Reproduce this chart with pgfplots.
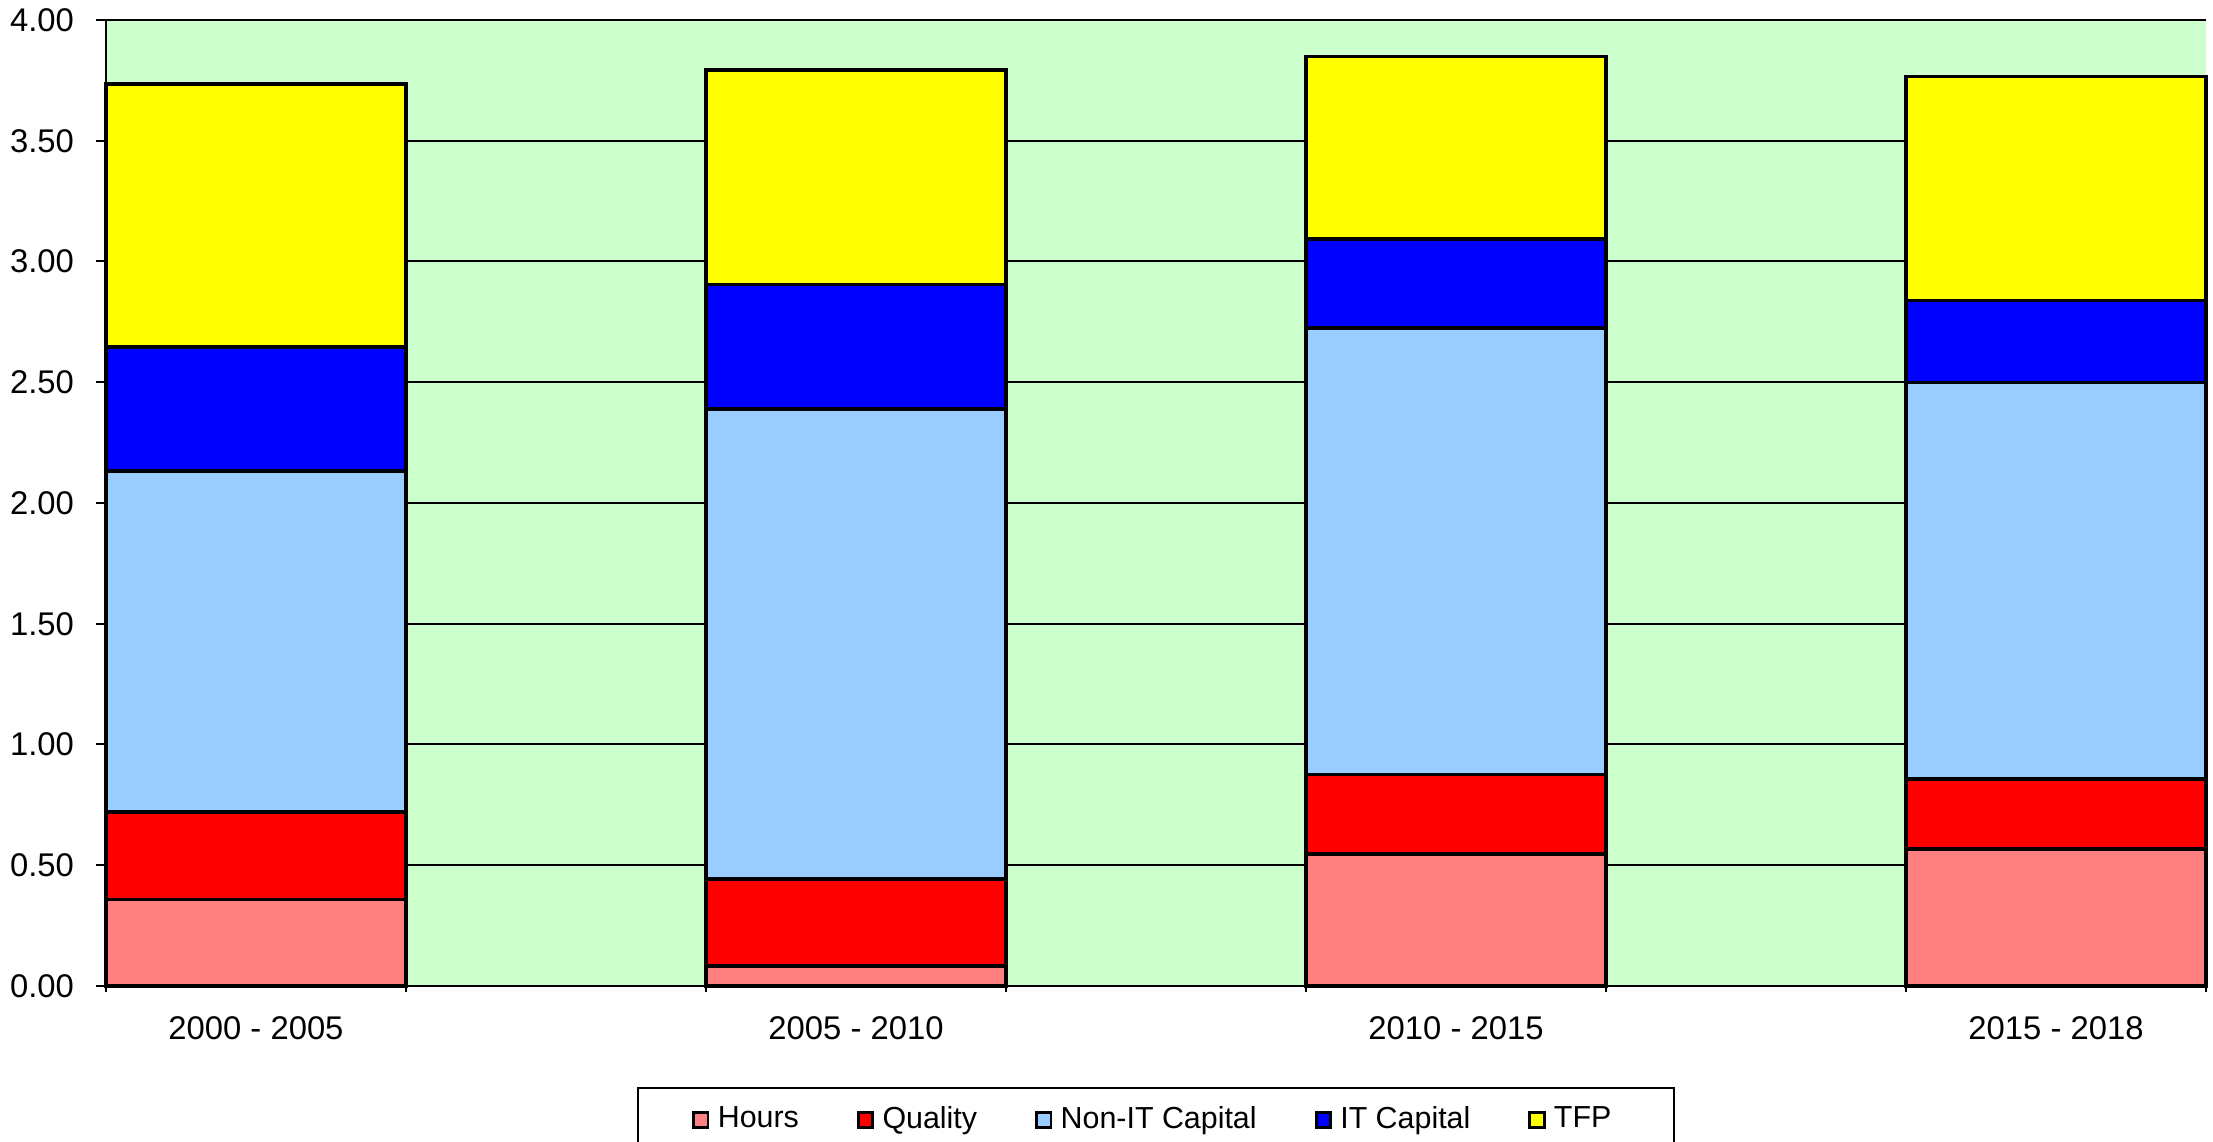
\documentclass[border=0pt]{standalone}
\usepackage{pgfplots}
\pgfplotsset{compat=1.18}
\usepackage{fontspec}
\setmainfont{Liberation Sans}
\definecolor{bg}{HTML}{CCFFCC}
\definecolor{hours}{HTML}{FF8080}
\definecolor{quality}{HTML}{FF0000}
\definecolor{nonit}{HTML}{99CCFF}
\definecolor{itcap}{HTML}{0000FF}
\definecolor{tfp}{HTML}{FFFF00}
\begin{document}
\begin{tikzpicture}
\begin{axis}[
  name=ax,
  scale only axis, width=525pt, height=241.5pt,
  ybar stacked, bar width=0.5,
  xmin=-0.25, xmax=3.25, ymin=0, ymax=4,
  clip=false,
  axis background/.style={fill=bg},
  axis x line*=bottom, axis y line*=left,
  axis line style={black, line width=0.6pt},
  xtick={0,1,2,3},
  xticklabels={2000 - 2005, 2005 - 2010, 2010 - 2015, 2015 - 2018},
  minor xtick={-0.25,0.25,0.75,1.25,1.75,2.25,2.75,3.25},
  major x tick style={draw=none},
  ytick={0,0.5,1,1.5,2,2.5,3,3.5,4},
  ymajorgrids, grid style={black, line width=0.5pt},
  tick align=outside, major tick length=2.5pt, minor tick length=1.5pt,
  tick style={black, line width=0.5pt},
  /pgf/number format/assume math mode=true,
  yticklabel style={/pgf/number format/fixed, /pgf/number format/fixed zerofill, /pgf/number format/precision=2, xshift=-2pt},
  xticklabel style={yshift=-1.5pt},
  tick label style={font=\fontsize{8.2}{10}\selectfont},
  legend columns=5,
  legend style={at={(0.5,-0.1046)}, anchor=north, draw=black, line width=0.5pt,
    font=\fontsize{7.6}{9}\selectfont,
    nodes={inner xsep=2.1pt},
    /tikz/every even column/.append style={column sep=12.4pt},
    inner xsep=13.5pt, inner ysep=2.5pt},
  legend image code/.code={\draw[#1, draw=black, line width=0.7pt] (0pt,-1.9pt) rectangle (3.6pt,1.9pt);},
]
\addplot[fill=hours, draw=black, line width=0.9pt] coordinates {(0,0.358) (1,0.082) (2,0.546) (3,0.567)};
\addplot[fill=quality, draw=black, line width=0.9pt] coordinates {(0,0.362) (1,0.361) (2,0.329) (3,0.290)};
\addplot[fill=nonit, draw=black, line width=0.9pt] coordinates {(0,1.412) (1,1.945) (2,1.850) (3,1.642)};
\addplot[fill=itcap, draw=black, line width=0.9pt] coordinates {(0,0.514) (1,0.517) (2,0.367) (3,0.340)};
\addplot[fill=tfp, draw=black, line width=0.9pt] coordinates {(0,1.089) (1,0.888) (2,0.756) (3,0.927)};
\legend{Hours, Quality, Non-IT Capital, IT Capital, TFP}
\end{axis}
\pgfresetboundingbox
\path[use as bounding box] ([shift={(-26.5pt,-39pt)}]ax.south west) rectangle ([shift={(1.75pt,5pt)}]ax.north east);
\end{tikzpicture}
\end{document}
